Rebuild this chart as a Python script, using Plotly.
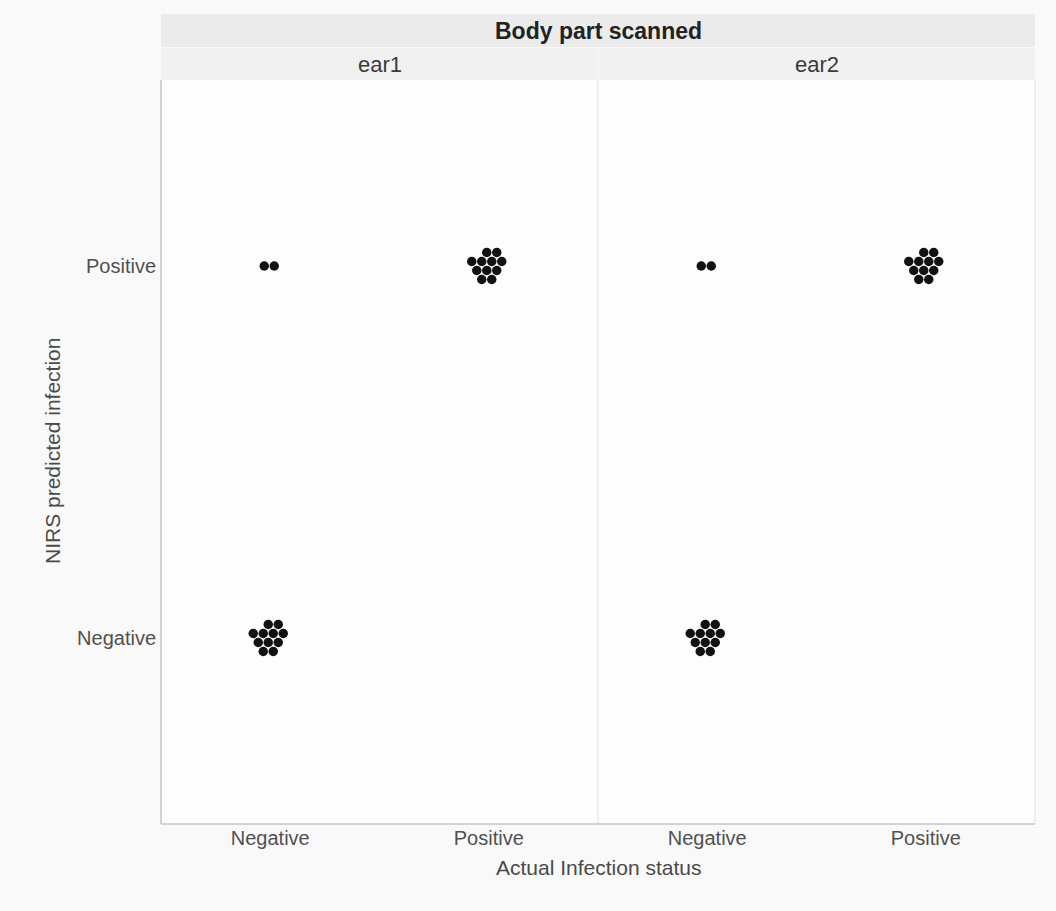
import plotly.graph_objects as go

# Counts of animals per facet / actual status / predicted status
facets = ["ear1", "ear2"]
status_levels = ["Negative", "Positive"]
actual_status = ["Negative", "Negative", "Positive", "Positive"]
predicted_status = ["Negative", "Positive", "Negative", "Positive"]
counts_ear1 = [11, 2, 0, 11]
counts_ear2 = [11, 2, 0, 11]
facet_counts = {"ear1": counts_ear1, "ear2": counts_ear2}

W, H = 1056, 911
M_L, M_R, M_T, M_B = 161, 21, 80, 87
PLOT_W = W - M_L - M_R
PLOT_H = H - M_T - M_B
PANEL_W = PLOT_W / len(facets)
# pixels per data unit (each axis spans 2 category units)
PX_X = PANEL_W / 2.0
PX_Y = PLOT_H / 2.0

DOT = 9.5      # marker diameter (px)
STEP_X = 10.0  # horizontal spacing in a row (px)
STEP_Y = 9.0   # vertical spacing between rows (px)
FONT = "Liberation Sans, Arial, sans-serif"


def swarm_rows(n):
    """Hexagonal packing rows (top to bottom) for n dots."""
    if n <= 0:
        return []
    if n <= 4:
        return [n]
    rows = []
    widths = [2, 4, 3, 2, 3, 2]
    left = n
    i = 0
    while left > 0:
        k = min(widths[i % len(widths)], left)
        rows.append(k)
        left -= k
        i += 1
    return rows


def swarm_offsets(n):
    """Pixel offsets (dx, dy) of a packed cluster of n dots."""
    rows = swarm_rows(n)
    out = []
    nr = len(rows)
    for r, k in enumerate(rows):
        dy = (r - (nr - 1) / 2.0) * STEP_Y
        if nr > 1 and r == 0 and k == 2:
            xs = [0.0, STEP_X]
        else:
            xs = [(j - (k - 1) / 2.0) * STEP_X for j in range(k)]
        for dx in xs:
            out.append((dx - (2.0 if nr > 1 else 1.0), dy))
    return out


fig = go.Figure()
for fi, facet in enumerate(facets):
    xs, ys = [], []
    for a, p, c in zip(actual_status, predicted_status, facet_counts[facet]):
        xi = status_levels.index(a)
        yi = status_levels.index(p)
        for dx, dy in swarm_offsets(c):
            xs.append(xi + dx / PX_X)
            ys.append(yi - dy / PX_Y)
    suffix = "" if fi == 0 else str(fi + 1)
    fig.add_trace(go.Scatter(
        x=xs, y=ys, mode="markers",
        marker=dict(size=DOT, color="#111111", line=dict(width=0)),
        xaxis="x" + suffix, yaxis="y" + suffix,
        showlegend=False, hoverinfo="skip",
    ))

tick_font = dict(family=FONT, size=20, color="#505050")
axis_common = dict(
    range=[-0.5, 1.5], tickmode="array", tickvals=[0, 1], ticktext=status_levels,
    showgrid=False, zeroline=False, tickcolor="rgba(0,0,0,0)",
    tickfont=tick_font, fixedrange=True,
)

layout = dict(
    width=W, height=H,
    margin=dict(l=M_L, r=M_R, t=M_T, b=M_B),
    paper_bgcolor="#f9f9f9",
    plot_bgcolor="#fdfdfd",
    font=dict(family=FONT, color="#444444"),
    xaxis=dict(domain=[0, 0.5], anchor="y", showline=False, ticks="", **axis_common),
    xaxis2=dict(domain=[0.5, 1], anchor="y2", showline=False, ticks="", **axis_common),
    yaxis=dict(domain=[0, 1], anchor="x", showline=False, ticks="outside", ticklen=0,
               **axis_common),
    yaxis2=dict(domain=[0, 1], anchor="x2", matches="y", showticklabels=False,
                showline=False, ticks="",
                **{k: v for k, v in axis_common.items() if k != "tickfont"}),
)
fig.update_layout(**layout)

shapes = []
# panel backgrounds and borders
shapes.append(dict(type="rect", xref="paper", yref="paper", x0=0, x1=1, y0=0, y1=1,
                   fillcolor="#fdfdfd", line=dict(width=0), layer="below"))
shapes.append(dict(type="line", xref="paper", yref="paper", x0=0.5, x1=0.5, y0=0, y1=1,
                   line=dict(color="#e0e0e0", width=1)))
shapes.append(dict(type="line", xref="paper", yref="paper", x0=1, x1=1, y0=0, y1=1,
                   line=dict(color="#e0e0e0", width=1)))
shapes.append(dict(type="line", xref="paper", yref="paper", x0=0, x1=0, y0=0, y1=1,
                   line=dict(color="#c4c4c4", width=1.5)))
shapes.append(dict(type="line", xref="paper", yref="paper", x0=0, x1=1, y0=0, y1=0,
                   line=dict(color="#c4c4c4", width=1.5)))

# strips above the panels
strip_gap = 1.0 / PLOT_H
s1_top = 1 + 32.0 / PLOT_H
s2_bot = s1_top + strip_gap
s2_top = 1 + 66.0 / PLOT_H
for fi in range(len(facets)):
    x0 = fi / len(facets)
    x1 = (fi + 1) / len(facets)
    shapes.append(dict(type="rect", xref="paper", yref="paper",
                       x0=x0 + (0 if fi == 0 else 1.0 / PLOT_W), x1=x1, y0=1, y1=s1_top,
                       fillcolor="#f1f1f1", line=dict(width=0)))
shapes.append(dict(type="rect", xref="paper", yref="paper", x0=0, x1=1, y0=s2_bot, y1=s2_top,
                   fillcolor="#ebebeb", line=dict(width=0)))
fig.update_layout(shapes=shapes)

annotations = []
for fi, facet in enumerate(facets):
    annotations.append(dict(
        text=facet, xref="paper", yref="paper",
        x=(fi + 0.5) / len(facets), y=(1 + s1_top) / 2,
        showarrow=False, xanchor="center", yanchor="middle",
        font=dict(family=FONT, size=22, color="#3a3a3a"),
    ))
annotations.append(dict(
    text="<b>Body part scanned</b>", xref="paper", yref="paper",
    x=0.5, y=(s2_bot + s2_top) / 2, showarrow=False, xanchor="center", yanchor="middle",
    font=dict(family=FONT, size=23, color="#222222"),
))
annotations.append(dict(
    text="Actual Infection status", xref="paper", yref="paper",
    x=0.5, y=-43.0 / PLOT_H, showarrow=False, xanchor="center", yanchor="middle",
    font=dict(family=FONT, size=21, color="#4a4a4a"),
))
annotations.append(dict(
    text="NIRS predicted infection", xref="paper", yref="paper",
    x=-109.0 / PLOT_W, y=0.5 + 1.0 / PLOT_H, textangle=-90,
    showarrow=False, xanchor="center", yanchor="middle",
    font=dict(family=FONT, size=21, color="#4a4a4a"),
))
fig.update_layout(annotations=annotations)

fig.write_html("out.html")
